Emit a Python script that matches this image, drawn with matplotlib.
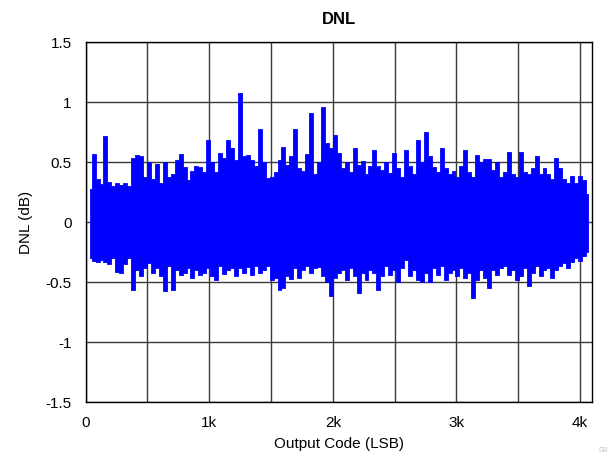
import matplotlib
matplotlib.use("Agg")
import matplotlib.pyplot as plt
import numpy as np

# DNL band: one max / min pair per 32-code bin
codigos = np.arange(32, 4065, 32)
dnl_max = [0.28, 0.57, 0.36, 0.32, 0.72, 0.34, 0.30, 0.33, 0.31, 0.33,
           0.30, 0.54, 0.56, 0.55, 0.38, 0.50, 0.36, 0.49, 0.33, 0.50,
           0.38, 0.40, 0.52, 0.57, 0.46, 0.35, 0.43, 0.47, 0.46, 0.42,
           0.69, 0.50, 0.42, 0.58, 0.54, 0.69, 0.62, 0.52, 1.08, 0.55,
           0.56, 0.52, 0.47, 0.78, 0.50, 0.37, 0.38, 0.42, 0.52, 0.63,
           0.48, 0.55, 0.78, 0.45, 0.43, 0.57, 0.91, 0.40, 0.50, 0.96,
           0.66, 0.62, 0.73, 0.58, 0.45, 0.50, 0.42, 0.62, 0.48, 0.51,
           0.40, 0.47, 0.60, 0.47, 0.44, 0.50, 0.41, 0.58, 0.45, 0.38,
           0.60, 0.47, 0.40, 0.69, 0.50, 0.75, 0.55, 0.46, 0.42, 0.62,
           0.45, 0.40, 0.43, 0.38, 0.47, 0.60, 0.42, 0.38, 0.56, 0.50,
           0.53, 0.53, 0.44, 0.50, 0.38, 0.42, 0.59, 0.40, 0.38, 0.59,
           0.42, 0.40, 0.45, 0.55, 0.40, 0.45, 0.40, 0.36, 0.54, 0.45,
           0.36, 0.33, 0.39, 0.33, 0.39, 0.35, 0.24]
dnl_min = [-0.30, -0.32, -0.33, -0.31, -0.33, -0.35, -0.30, -0.41, -0.42, -0.35,
           -0.30, -0.56, -0.40, -0.45, -0.38, -0.34, -0.42, -0.38, -0.45, -0.57,
           -0.36, -0.56, -0.40, -0.44, -0.42, -0.38, -0.46, -0.40, -0.44, -0.42,
           -0.38, -0.45, -0.48, -0.36, -0.43, -0.40, -0.38, -0.45, -0.38, -0.42,
           -0.37, -0.44, -0.36, -0.42, -0.40, -0.36, -0.48, -0.46, -0.56, -0.55,
           -0.45, -0.47, -0.38, -0.46, -0.40, -0.36, -0.42, -0.38, -0.37, -0.45,
           -0.50, -0.61, -0.46, -0.42, -0.40, -0.48, -0.38, -0.45, -0.59, -0.42,
           -0.48, -0.40, -0.42, -0.56, -0.45, -0.36, -0.44, -0.40, -0.50, -0.38,
           -0.31, -0.45, -0.40, -0.48, -0.50, -0.42, -0.50, -0.38, -0.44, -0.36,
           -0.48, -0.42, -0.40, -0.45, -0.38, -0.46, -0.42, -0.63, -0.48, -0.40,
           -0.46, -0.55, -0.40, -0.44, -0.38, -0.36, -0.44, -0.40, -0.48, -0.45,
           -0.38, -0.53, -0.42, -0.36, -0.45, -0.40, -0.38, -0.46, -0.40, -0.36,
           -0.34, -0.38, -0.33, -0.30, -0.32, -0.28, -0.25]

ticks_x = [0, 1000, 2000, 3000, 4000]
etiquetas_x = ["0", "1k", "2k", "3k", "4k"]
ticks_y = [-1.5, -1, -0.5, 0, 0.5, 1, 1.5]
etiquetas_y = ["-1.5", "-1", "-0.5", "0", "0.5", "1", "1.5"]

plt.rcParams["font.family"] = ["Liberation Sans", "DejaVu Sans"]

fig = plt.figure(figsize=(6.09, 4.57), dpi=100)
ax = fig.add_axes([0.1407, 0.1197, 0.8313, 0.7877])

# each bin drawn as a solid column min..max, so the band reads as a dense trace
ax.fill_between(codigos, dnl_min, dnl_max, step="mid", color="#0000FF",
                linewidth=0.6, edgecolor="#0000FF", zorder=3)

ax.set_xlim(0, 4096)
ax.set_ylim(-1.5, 1.5)
ax.set_xticks(ticks_x)
ax.set_xticklabels(etiquetas_x)
ax.set_yticks(ticks_y)
ax.set_yticklabels(etiquetas_y)
ax.set_xticks(np.arange(500, 4000, 1000), minor=True)
ax.tick_params(which="both", length=0, labelsize=11, colors="black")
ax.tick_params(axis="y", pad=10)
ax.tick_params(axis="x", pad=10)
ax.grid(which="both", color="#3a3a3a", linewidth=1.0)
ax.set_axisbelow(True)
for s in ax.spines.values():
    s.set_color("black")
    s.set_linewidth(1.0)

ax.set_title("DNL", fontsize=12, fontweight="bold", pad=13)
ax.set_xlabel("Output Code (LSB)", fontsize=11, labelpad=5)
ax.set_ylabel("DNL (dB)", fontsize=11, labelpad=9)

fig.text(0.983, 0.012, "G0", fontsize=5, color="#bbbbbb")

fig.savefig("out.png", dpi=100)
